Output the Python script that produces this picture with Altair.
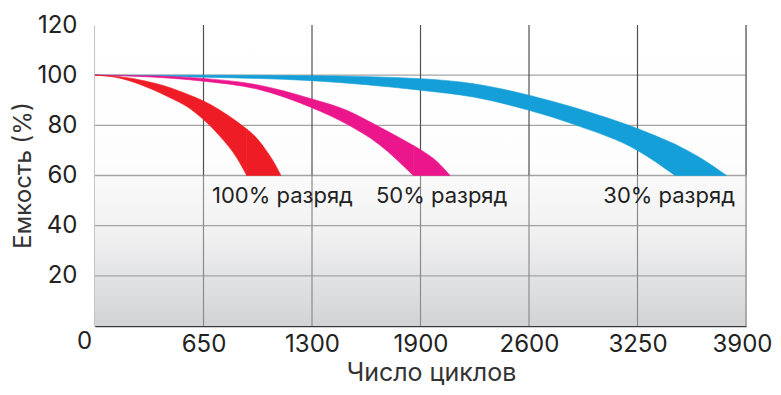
import altair as alt
import pandas as pd

# ---- axis ticks ----
cycle_ticks = [0, 650, 1300, 1950, 2600, 3250, 3900]
cycle_tick_labels = ["0", "650", "1300", "1900", "2600", "3250", "3900"]
capacity_ticks = [20, 40, 60, 80, 100, 120]
grid_capacity = [20, 40, 60, 80, 100]

# ---- bands (cycles, upper edge %, lower edge %) ----
red_x = [0, 150, 300, 450, 550, 650, 750, 850, 909, 960, 1020, 1070, 1114]
red_top = [100, 99.4, 97.7, 95, 92.5, 89.7, 86, 81.5, 78.5, 75.5, 70.5, 65.5, 60]
red_bottom = [100, 98.8, 95.5, 91, 87.5, 82.3, 75.5, 67, 60, 60, 60, 60, 60]

magenta_x = [0, 300, 650, 969, 1300, 1508, 1700, 1907, 1950, 2050, 2127]
magenta_top = [100, 99.8, 98.7, 96.2, 90.5, 86, 79.5, 72, 70.3, 65.5, 60]
magenta_bottom = [100, 99.4, 97.6, 94.5, 87, 80.5, 72.5, 60, 60, 60, 60]

blue_x = [0, 650, 1300, 1950, 2267, 2600, 2886, 3250, 3475, 3625, 3784]
blue_top = [100, 100, 99.8, 98.6, 96.6, 92, 86.8, 78.7, 72.5, 67.1, 60]
blue_bottom = [100, 99.2, 97.8, 94, 91.3, 86, 80, 70, 60, 60, 60]

# ---- annotations ----
label_texts = ["100% разряд", "50% разряд", "30% разряд"]
label_cycles = [701, 1683, 3834]
label_capacity = [52, 52, 52]
label_align = ["left", "left", "right"]

RED = "#ee1c25"
MAGENTA = "#ec168c"
BLUE = "#159fd9"
FONT = "Inter"
FLOOR = 60

xscale = alt.Scale(domain=[0, 3900], nice=False, zero=False)
yscale = alt.Scale(domain=[0, 120], nice=False)

label_expr = "{" + ",".join(
    f"'{v}': '{t}'" for v, t in zip(cycle_ticks, cycle_tick_labels)
) + "}[datum.value]"

bg = pd.DataFrame({"x": [0], "x2": [3900], "y": [0], "y2": [120]})
background = alt.Chart(bg).mark_rect(
    color=alt.Gradient(
        gradient="linear",
        x1=0, x2=0, y1=0, y2=1,
        stops=[
            alt.GradientStop(offset=0, color="#ffffff"),
            alt.GradientStop(offset=0.45, color="#fdfdfd"),
            alt.GradientStop(offset=0.7, color="#f0f0f1"),
            alt.GradientStop(offset=1, color="#d2d3d5"),
        ],
    )
).encode(
    x=alt.X("x:Q", scale=xscale,
            axis=alt.Axis(values=cycle_ticks, labelExpr=label_expr,
                          title="Число циклов", grid=False, ticks=False,
                          domainColor="#3a3a3a", domainWidth=1.6,
                          labelFont=FONT, labelFontSize=24, labelColor="#222222",
                          labelPadding={"condition": {"test": "datum.value === 0", "value": 3}, "value": 6},
                          labelOffset={"condition": [
                              {"test": "datum.value === 0", "value": -11},
                              {"test": "datum.value === 3900", "value": -4}], "value": 0},
                          titleFont=FONT, titleFontSize=25, titleFontWeight="normal",
                          titleColor="#333333", titleX=336, titleY=54,
                          titleAlign="center", titleBaseline="alphabetic",
                          labelFlush=False, labelOverlap=False)),
    x2="x2:Q",
    y=alt.Y("y:Q", scale=yscale,
            axis=alt.Axis(values=capacity_ticks, title="Емкость (%)", grid=False,
                          ticks=False, domainColor="#3a3a3a", domainWidth=1.6,
                          labelFont=FONT, labelFontSize=24, labelColor="#222222",
                          labelPadding=18,
                          titleFont=FONT, titleFontSize=24, titleFontWeight="normal",
                          titleColor="#333333", titleX=-65, titleY=150,
                          titleAngle=-90, titleAlign="center",
                          titleBaseline="alphabetic",
                          labelFlush=False, labelOverlap=False)),
    y2="y2:Q",
)

hgrid = alt.Chart(pd.DataFrame({"cap": grid_capacity})).mark_rule(
    color="#a4a4a4", strokeWidth=1.4
).encode(
    y=alt.Y("cap:Q", scale=yscale),
    x=alt.value(0),
    x2=alt.value(651),
)
vgrid_df = pd.DataFrame({"cyc": cycle_ticks[1:]})
vgrid_upper = alt.Chart(vgrid_df).mark_rule(color="#505050", strokeWidth=1.2).encode(
    x=alt.X("cyc:Q", scale=xscale),
    y=alt.datum(120),
    y2=alt.datum(60),
)
vgrid_lower = alt.Chart(vgrid_df).mark_rule(color="#8c8c8c", strokeWidth=1.2).encode(
    x=alt.X("cyc:Q", scale=xscale),
    y=alt.datum(60),
    y2=alt.datum(0),
)


def band(xs, tops, bottoms, color):
    df = pd.DataFrame({"cycles": xs, "top": tops, "bottom": bottoms})
    end = next(i for i, b in enumerate(bottoms) if b <= FLOOR)
    parts = []
    for sub in (df.iloc[: end + 1], df.iloc[end:]):
        if len(sub) < 2:
            continue
        parts.append(
            alt.Chart(sub).mark_area(
                color=color, interpolate="monotone", opacity=1,
                stroke=color, strokeWidth=0.6,
            ).encode(
                x=alt.X("cycles:Q", scale=xscale),
                y=alt.Y("top:Q", scale=yscale),
                y2="bottom:Q",
            )
        )
    return parts


labels_df = pd.DataFrame({"text": label_texts, "cycles": label_cycles,
                          "cap": label_capacity, "align": label_align})
labels_left = alt.Chart(labels_df[labels_df["align"] == "left"]).mark_text(
    align="left", baseline="middle", font=FONT, fontSize=22, color="#222222"
).encode(x=alt.X("cycles:Q", scale=xscale), y=alt.Y("cap:Q", scale=yscale), text="text:N")
labels_right = alt.Chart(labels_df[labels_df["align"] == "right"]).mark_text(
    align="right", baseline="middle", font=FONT, fontSize=22, color="#222222"
).encode(x=alt.X("cycles:Q", scale=xscale), y=alt.Y("cap:Q", scale=yscale), text="text:N")

chart = alt.layer(
    background,
    hgrid,
    vgrid_upper,
    vgrid_lower,
    *band(blue_x, blue_top, blue_bottom, BLUE),
    *band(magenta_x, magenta_top, magenta_bottom, MAGENTA),
    *band(red_x, red_top, red_bottom, RED),
    labels_left,
    labels_right,
).properties(
    width=651,
    height=301,
    autosize=alt.AutoSizeParams(type="none"),
    padding={"left": 87, "top": 17, "right": 27, "bottom": 61},
).configure_view(stroke=None).configure(background="white")

chart.save("out.html", embed_options={"renderer": "svg", "actions": False})
